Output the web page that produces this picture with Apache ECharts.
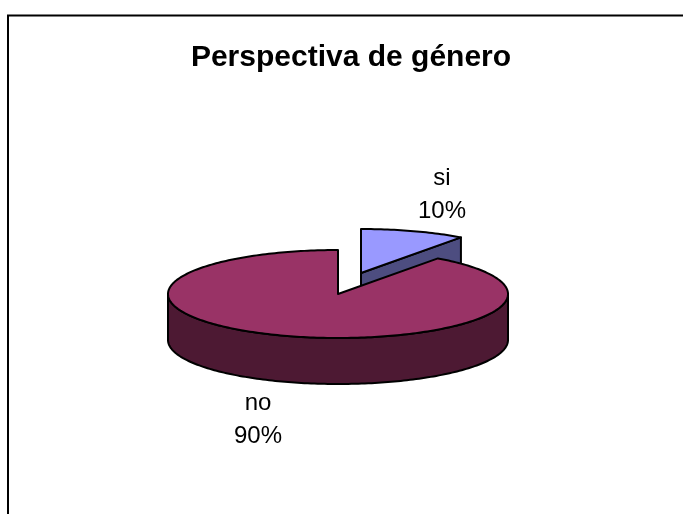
<!DOCTYPE html>
<html>
<head>
<meta charset="utf-8">
<style>
  html, body { margin: 0; padding: 0; background: #fff; }
  #chart { width: 683px; height: 514px; }
</style>
<script src="https://cdn.jsdelivr.net/npm/echarts@6/dist/echarts.min.js"></script>
</head>
<body>
<div id="chart"></div>
<script>
(function(){
  'use strict';

  const titleText = 'Perspectiva de género';
  const categories = ['si', 'no'];
  const values = [10, 90];

  // look of the tilted pie
  const cx = 338, cy = 294, rx = 170, ry = 44, depth = 46;
  const topColors = ['#9999ff', '#993366'];
  const sideColors = ['#4d4d80', '#4d1933'];
  const offsets = [[23, -21], [0, 0]];
  const labelAnchors = [[442, 195], [258, 420]];

  const total = values.reduce((a, b)=>a + b, 0);

  function rimPoint(ox, oy, a){
    return [ox + rx * Math.sin(a), oy - ry * Math.cos(a)];
  }

  function arcPoints(ox, oy, from, to){
    const steps = Math.max(2, Math.ceil(Math.abs(to - from) / 0.02));
    const pts = [];
    for(let i = 0; i <= steps; i++){
      pts.push(rimPoint(ox, oy, from + (to - from) * i / steps));
    }
    return pts;
  }

  function poly(points, fill){
    return {
      type: 'polygon',
      shape: { points: points },
      style: { fill: fill, stroke: '#000', lineWidth: 2, lineJoin: 'round' }
    };
  }

  function renderSlice(params, api){
    const i = params.dataIndex;
    const before = values.slice(0, i).reduce((a, b)=>a + b, 0);
    const start = before / total * Math.PI * 2;
    const end = (before + api.value(0)) / total * Math.PI * 2;
    const ox = cx + offsets[i][0];
    const oy = cy + offsets[i][1];
    const children = [];

    // outer wall, only the part of the rim that faces the viewer
    const wallFrom = Math.max(start, Math.PI / 2);
    const wallTo = Math.min(end, Math.PI * 1.5);
    if(wallTo > wallFrom){
      const upper = arcPoints(ox, oy, wallFrom, wallTo);
      const lower = arcPoints(ox, oy + depth, wallFrom, wallTo).reverse();
      children.push(poly(upper.concat(lower), sideColors[i]));
    }

    // cut face, seen when the closing edge points away from the viewer
    if(end < Math.PI / 2){
      const tip = rimPoint(ox, oy, end);
      children.push(poly([[ox, oy], tip, [tip[0], tip[1] + depth], [ox, oy + depth]], sideColors[i]));
    }

    children.push(poly([[ox, oy]].concat(arcPoints(ox, oy, start, end)), topColors[i]));

    const pct = Math.round(api.value(0) / total * 100) + '%';
    children.push({
      type: 'text',
      z2: 10,
      style: {
        x: labelAnchors[i][0],
        y: labelAnchors[i][1],
        text: categories[i] + '\n' + pct,
        fill: '#000',
        font: '24px "Liberation Sans", Arial, sans-serif',
        lineHeight: 33,
        align: 'center',
        verticalAlign: 'middle'
      }
    });

    return { type: 'group', children: children };
  }

  function init(){
    const chart = echarts.init(document.getElementById('chart'), null, { renderer: 'canvas' });
    chart.setOption({
      animation: false,
      backgroundColor: '#fff',
      title: {
        text: titleText,
        left: 346,
        top: 38,
        textAlign: 'center',
        textStyle: { fontFamily: '"Liberation Sans", Arial, sans-serif', fontSize: 30, fontWeight: 'bold', color: '#000' }
      },
      graphic: [{
        type: 'polyline',
        shape: { points: [[8, 514], [8, 15.5], [683, 15.5]] },
        style: { fill: null, stroke: '#000', lineWidth: 2 }
      }],
      series: [{
        type: 'custom',
        coordinateSystem: 'none',
        renderItem: renderSlice,
        data: values.map((v)=>[v])
      }]
    });
  }

  init();
})();
</script>
</body>
</html>
